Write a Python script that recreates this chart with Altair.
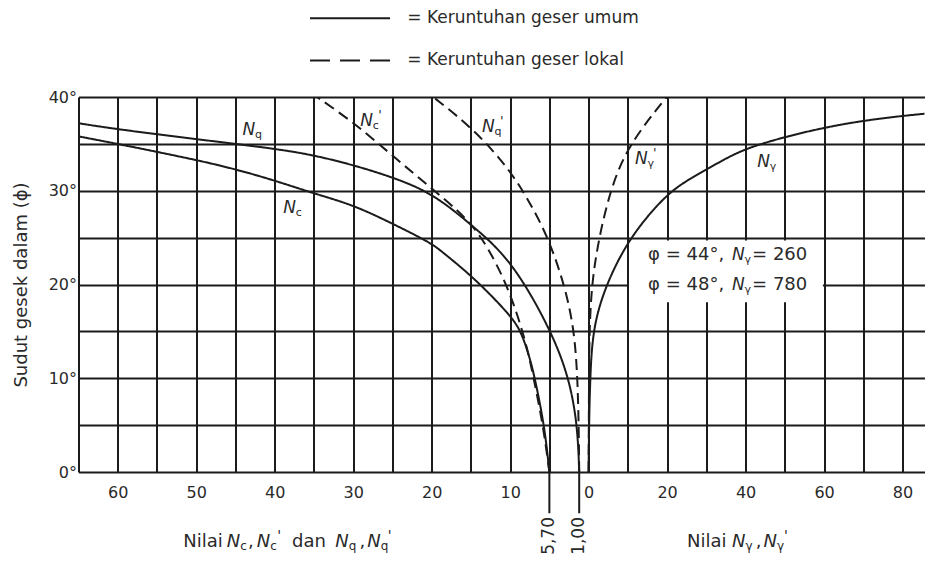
import altair as alt
import pandas as pd

# ---------------- data ----------------
# left half: N_c, N_c', N_q, N_q' (scale grows to the left, 0 in the middle)
NC_PHI = [0, 4.8, 9.8, 11.9, 14.8, 16.6, 20.8, 23.5, 24.4, 26.5, 28.5, 29.7, 31.1, 32.3, 33.3, 35.0, 35.8]
NC_VAL = [5.0, 5.6, 6.8, 7.4, 8.5, 9.8, 14.7, 18.7, 20.0, 25.0, 30.0, 35.0, 40.0, 45.0, 50.0, 60.0, 65.0]

NCL_PHI = [0, 5, 10, 12.8, 16.4, 20.3, 23.9, 26.2, 28.0, 30.1, 33.6, 37.2, 40]
NCL_VAL = [5.0, 5.8, 7.0, 7.7, 8.9, 10.6, 12.8, 14.7, 16.8, 19.8, 24.8, 29.8, 34.6]

NQ_PHI = [0, 4.8, 9.8, 15, 22.6, 26.2, 29.7, 31.4, 32.7, 33.8, 34.5, 35.5, 36.55, 37.2]
NQ_VAL = [1.2, 1.4, 2.4, 4.7, 9.8, 14.7, 19.8, 24.8, 29.8, 35.0, 40.0, 50.0, 60.0, 65.0]

NQL_PHI = [0, 4.5, 9.8, 15, 19.8, 24.9, 28.3, 32, 36.5, 40]
NQL_VAL = [1.2, 1.25, 1.4, 1.8, 3.0, 5.1, 7.2, 9.8, 14.5, 19.8]

# right half: N_gamma, N_gamma'
NG_PHI = [0, 5, 10, 15, 19.4, 24.9, 29.7, 31.3, 33.1, 34.5, 35.8, 36.8, 37.5, 38.0, 38.3]
NG_VAL = [0, 0.1, 0.4, 1.0, 3.8, 10.1, 19.9, 25.9, 33.5, 39.8, 50.5, 60.7, 70.4, 80.2, 87.8]

NGL_PHI = [0, 10, 15.1, 20.1, 24.7, 30.1, 34.9, 40]
NGL_VAL = [0, 0.1, 0.2, 0.8, 2.5, 5.5, 10.1, 19.9]

CURVES = [
    ("Nc", "umum", "L", NC_PHI, NC_VAL),
    ("Nc'", "lokal", "L", NCL_PHI, NCL_VAL),
    ("Nq", "umum", "L", NQ_PHI, NQ_VAL),
    ("Nq'", "lokal", "L", NQL_PHI, NQL_VAL),
    ("Ng", "umum", "R", NG_PHI, NG_VAL),
    ("Ng'", "lokal", "R", NGL_PHI, NGL_VAL),
]

END_VALUES = [5.0, 1.2]
END_LABELS = ["5,70", "1,00"]

LEGEND_KINDS = ["umum", "lokal"]
LEGEND_LABELS = ["= Keruntuhan geser umum", "= Keruntuhan geser lokal"]

NOTE_LEFT = ["\u03c6 =  44\u00b0,", "\u03c6 =  48\u00b0,"]
NOTE_RIGHT = ["= 260", "= 780"]

CURVE_SUBS = ["q", "c", "c", "q", "\u03b3", "\u03b3"]
CURVE_PRIME = [False, False, True, True, True, False]

TITLE_WORDS = ["Nilai", ",", "dan", ",", "Nilai", ","]
TITLE_N_SUBS = ["c", "c", "q", "q", "\u03b3", "\u03b3"]
TITLE_N_PRIME = [False, True, False, True, False, True]

# ---------------- layout (positions of annotations) ----------------
FONT = "DejaVu Sans"
INK = "#1b1b1b"
TXT = "#2a2a2a"

CURVE_LABEL_POS = [(-44.1, 36.5), (-38.9, 28.2), (-29.1, 37.4), (-13.6, 36.8), (5.9, 33.4), (21.5, 33.1)]
LEG_U0, LEG_U1, LEG_TXT_U = -35.5, -25.3, -23.1
LEG_PHI = [48.4, 43.9]
BOX = dict(u=5.15, u1=29.85, phi=18.1, p1=24.7)
NOTE_PHI = [23.1, 19.9]
NOTE_U = (7.58, 18.28, 20.83)
TITLE_PHI = -7.45
TITLE_WORD_U = [-51.66, -43.4, -37.8, -29.2, 12.55, 21.3]
TITLE_N_U = [-46.1, -42.3, -32.3, -28.2, 18.28, 22.3]

rows = []
for name, kind, side, phis, vals in CURVES:
    for p, v in zip(phis, vals):
        rows.append({"curve": name, "kind": kind, "phi": p,
                     "u": -v if side == "L" else v / 2.0})
df = pd.DataFrame(rows)

x_scale = alt.Scale(domain=[-65, 42.8], nice=False, zero=False)
y_scale = alt.Scale(domain=[0, 40], nice=False, zero=False)

x_axis = alt.Axis(
    values=list(range(-65, 45, 5)), grid=True, ticks=False, domain=False,
    labelExpr="datum.value % 10 !== 0 ? '' : (datum.value < 0 ? '' + (-datum.value) : '' + (datum.value * 2))",
    labelFont=FONT, labelFontSize=16, labelColor=TXT, labelPadding=12,
    labelOverlap=False, labelFlush=False,
    gridColor=INK, gridWidth=2, gridOpacity=1, title=None)

y_axis = alt.Axis(
    values=list(range(0, 45, 5)), grid=True, ticks=False, domain=False,
    labelExpr="datum.value % 10 === 0 ? datum.value + '\u00b0' : ''",
    labelFont=FONT, labelFontSize=16, labelColor=TXT, labelPadding=2,
    labelOverlap=False, labelFlush=False,
    gridColor=INK, gridWidth=2, gridOpacity=1,
    title="Sudut gesek dalam (\u03d5)", titleFont=FONT, titleFontSize=18,
    titleFontWeight="normal", titleColor=TXT, titleAngle=270,
    titleX=-57.5, titleY=187.5, titleAlign="center", titleBaseline="middle")


def X(f):
    return alt.X(f, type="quantitative", scale=x_scale, axis=x_axis)


def Y(f):
    return alt.Y(f, type="quantitative", scale=y_scale, axis=y_axis)


# white box behind the note
box = alt.Chart(pd.DataFrame([BOX])).mark_rect(color="white").encode(
    x=X("u"), x2="u1:Q", y=Y("phi"), y2="p1:Q")

lines = alt.Chart(df).mark_line(clip=True, strokeWidth=2, color=INK,
                                interpolate="basis").encode(
    x=X("u"), y=Y("phi"), detail="curve:N", order="phi:Q",
    strokeDash=alt.StrokeDash("kind:N", scale=alt.Scale(domain=["umum", "lokal"],
                                                        range=[[1, 0], [11, 6]]), legend=None))

# extension ticks below the axis with rotated values
ext = pd.DataFrame({"u": [-v for v in END_VALUES], "phi": 0.0, "p1": -4.4, "pt": -4.8,
                    "label": END_LABELS})
ext_rules = alt.Chart(ext).mark_rule(strokeWidth=2, color=INK).encode(x=X("u"), y=Y("phi"), y2="p1:Q")
ext_text = alt.Chart(ext).mark_text(angle=270, align="right", baseline="middle", font=FONT,
                                    fontSize=17, color=TXT).encode(x=X("u"), y=Y("pt"), text="label:N")

# curve labels (italic N + subscript + optional prime)
cl = pd.DataFrame({"u": [p[0] for p in CURVE_LABEL_POS], "phi": [p[1] for p in CURVE_LABEL_POS],
                   "N": "N", "sub": CURVE_SUBS,
                   "prime": ["'" if b else "" for b in CURVE_PRIME]})
# note symbols N_gamma inside the box
nn = pd.DataFrame({"u": [NOTE_U[1]] * 2, "phi": NOTE_PHI, "N": "N", "sub": "\u03b3", "prime": ""})
rich17 = pd.concat([cl, nn], ignore_index=True)

# bottom axis titles built from pieces
title_words = pd.DataFrame({"u": TITLE_WORD_U, "phi": TITLE_PHI, "t": TITLE_WORDS})
title_n = pd.DataFrame({"u": TITLE_N_U, "phi": TITLE_PHI, "N": "N", "sub": TITLE_N_SUBS,
                        "prime": ["'" if b else "" for b in TITLE_N_PRIME]})

note = pd.DataFrame({"u": [NOTE_U[0]] * 2 + [NOTE_U[2]] * 2,
                     "phi": NOTE_PHI + NOTE_PHI,
                     "t": NOTE_LEFT + NOTE_RIGHT})

base_txt = dict(font=FONT, color=TXT, align="left", baseline="middle")


def rich_layers(d, size, subsize, subdx, subdy, primedx):
    return [
        alt.Chart(d).mark_text(fontSize=size, fontStyle="italic", **base_txt).encode(
            x=X("u"), y=Y("phi"), text="N:N"),
        alt.Chart(d).mark_text(fontSize=subsize, dx=subdx, dy=subdy, **base_txt).encode(
            x=X("u"), y=Y("phi"), text="sub:N"),
        alt.Chart(d).mark_text(fontSize=subsize + 2, dx=primedx, dy=-6, **base_txt).encode(
            x=X("u"), y=Y("phi"), text="prime:N"),
    ]


t_words = alt.Chart(title_words).mark_text(fontSize=18, **base_txt).encode(
    x=X("u"), y=Y("phi"), text="t:N")
t_note = alt.Chart(note).mark_text(fontSize=18, **base_txt).encode(x=X("u"), y=Y("phi"), text="t:N")

# legend drawn above the plot
leg = pd.DataFrame({"kind": LEGEND_KINDS, "label": LEGEND_LABELS, "phi": LEG_PHI,
                    "u": LEG_U0, "u1": LEG_U1, "ut": LEG_TXT_U})
leg_solid = alt.Chart(leg).transform_filter(alt.datum.kind == "umum").mark_rule(
    strokeWidth=2, color=INK).encode(x=X("u"), x2="u1:Q", y=Y("phi"))
leg_dash = alt.Chart(leg).transform_filter(alt.datum.kind == "lokal").mark_rule(
    strokeWidth=2, color=INK, strokeDash=[20, 10]).encode(x=X("u"), x2="u1:Q", y=Y("phi"))
leg_text = alt.Chart(leg).mark_text(fontSize=17, **base_txt).encode(x=X("ut"), y=Y("phi"), text="label:N")

layers = [box, lines, ext_rules, ext_text, t_words, t_note]
layers += rich_layers(rich17, 17, 11, 12.5, 5, 18)
layers += rich_layers(title_n, 18, 12, 13.5, 4, 20.5)
layers += [leg_solid, leg_dash, leg_text]

chart = alt.layer(*layers).properties(
    width=846, height=375,
    autosize=alt.AutoSizeParams(type="none"),
    padding={"left": 70.5, "top": 89, "right": 0, "bottom": 83},
    background="white",
).configure_view(strokeWidth=0)

chart.save("out.html", embed_options={"renderer": "svg", "actions": False})
